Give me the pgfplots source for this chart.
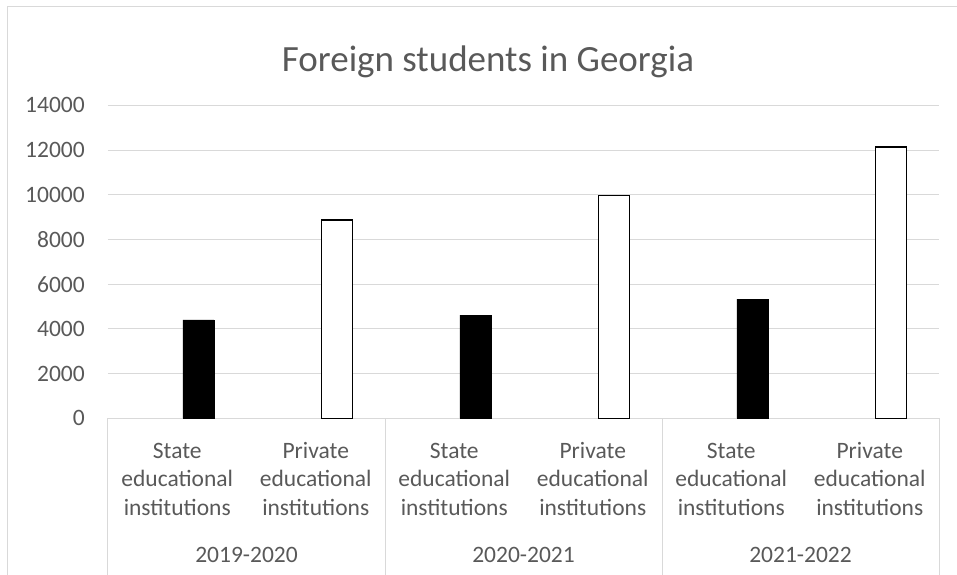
\documentclass[border=0pt]{standalone}
\usepackage{pgfplots}
\pgfplotsset{compat=1.18}
\usepackage{fontspec}
\setmainfont{Carlito}
\definecolor{gridgray}{HTML}{D9D9D9}
\definecolor{txtgray}{HTML}{595959}
\newcommand{\axfont}{\fontsize{23.5bp}{28.5bp}\selectfont}
\begin{document}
\begin{tikzpicture}
\path[use as bounding box] (0,0) rectangle (957bp,575bp);
\clip (0,0) rectangle (957bp,575bp);
\draw[gridgray, line width=1bp] (7bp,-20bp) rectangle (990bp,568bp);
\node[anchor=base, font=\fontsize{37bp}{44bp}\selectfont, text=txtgray] at (488bp,503.3bp) {Foreign students in Georgia};
\begin{axis}[
  at={(108bp,156.7bp)}, anchor=south west,
  scale only axis, width=831bp, height=312.9bp,
  xmin=-0.5, xmax=5.5, ymin=0, ymax=14000,
  axis line style={draw=none},
  ytick={0,2000,...,14000},
  ymajorgrids, grid style={color=gridgray, line width=1bp},
  major tick length=0pt,
  xtick={0,...,5},
  xticklabels={{\strut State\\educational\\institutions},{\strut Private\\educational\\institutions},{\strut State\\educational\\institutions},{\strut Private\\educational\\institutions},{\strut State\\educational\\institutions},{\strut Private\\educational\\institutions}},
  xticklabel style={align=center, font=\axfont, text=txtgray, anchor=north, inner sep=0pt, yshift=-20bp},
  yticklabel style={font=\axfont, text=txtgray, anchor=east, inner sep=0pt, xshift=-23bp},
  /pgf/number format/assume math mode=true,
  /pgf/number format/1000 sep={},
  scaled y ticks=false,
  clip=false,
  ybar, bar width=31bp,
]
\addplot[fill=black, draw=black, line width=0.5bp, bar shift=21bp] coordinates {(0,4400) (2,4620) (4,5330)};
\addplot[fill=white, draw=black, line width=1.5bp, bar shift=21bp] coordinates {(1,8880) (3,9960) (5,12140)};
\foreach \s in {-0.5,1.5,3.5,5.5} {
  \edef\tmp{\noexpand\draw[gridgray, line width=1bp] (axis cs:\s,0) -- ++(0pt,-180bp);}
  \tmp
}
\node[anchor=base, font=\axfont, text=txtgray, yshift=-143.7bp] at (axis cs:0.5,0) {2019-2020};
\node[anchor=base, font=\axfont, text=txtgray, yshift=-143.7bp] at (axis cs:2.5,0) {2020-2021};
\node[anchor=base, font=\axfont, text=txtgray, yshift=-143.7bp] at (axis cs:4.5,0) {2021-2022};
\end{axis}
\end{tikzpicture}
\end{document}
